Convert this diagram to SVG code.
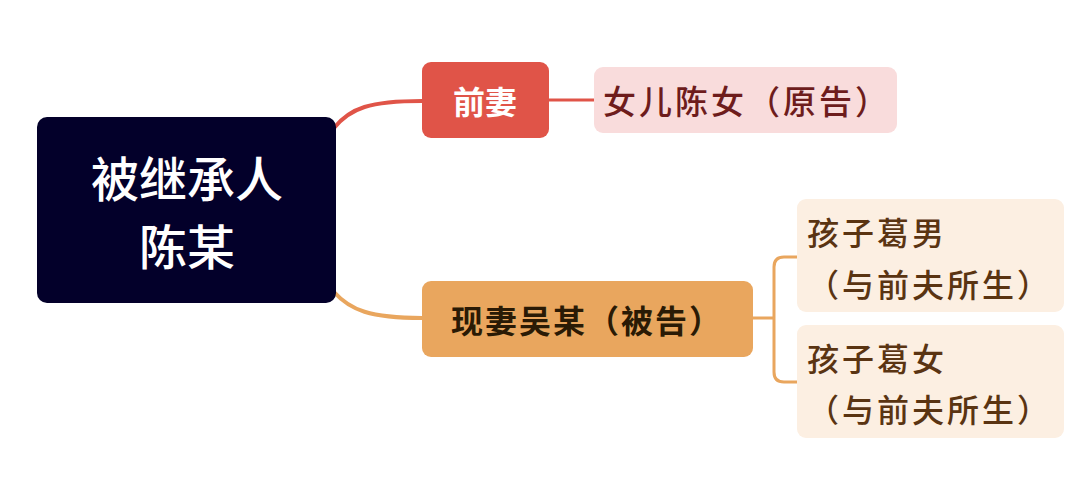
<svg xmlns="http://www.w3.org/2000/svg" width="1080" height="500" viewBox="0 0 1080 500">
<style>
.t{font-family:"Noto Sans CJK SC","Noto Sans",sans-serif;dominant-baseline:central}
.red{stroke:#e05448;fill:none}
.org{stroke:#e9a65e;fill:none}
</style>
<rect width="1080" height="500" fill="#ffffff"/>
<g id="connectors" stroke-linecap="round">
<path class="red" stroke-width="4" d="M334,128 C350,108 370,101 422,101"/>
<path class="red" stroke-width="3" d="M549,100 H594"/>
<path class="org" stroke-width="4" d="M334,292 C350,310 370,318 422,318"/>
<path class="org" stroke-width="3" d="M753,318 H774 M797,257 H784 Q774,257 774,267 V372 Q774,382 784,382 H797"/>
</g>
<g id="root">
<rect x="37" y="117" width="299" height="186" rx="10" fill="#03002a"/>
<text class="t" x="187" y="176" font-size="48" font-weight="500" fill="#ffffff" text-anchor="middle">被继承人</text>
<text class="t" x="187" y="244" font-size="48" font-weight="500" fill="#ffffff" text-anchor="middle">陈某</text>
</g>
<g id="qianqi">
<rect x="422" y="62" width="127" height="76" rx="9" fill="#e05448"/>
<text class="t" x="485" y="100" font-size="32" font-weight="bold" fill="#ffffff" text-anchor="middle">前妻</text>
</g>
<g id="daughter">
<rect x="594" y="67" width="303" height="66" rx="9" fill="#f9dcdc"/>
<text class="t" x="603" y="100" font-size="33" font-weight="500" fill="#6e1c1c" letter-spacing="3">女儿陈女（原告）</text>
</g>
<g id="wife">
<rect x="422" y="281" width="331" height="76" rx="9" fill="#e9a65e"/>
<text class="t" x="451" y="319" font-size="32" font-weight="bold" fill="#2a1a05" letter-spacing="2">现妻吴某（被告）</text>
</g>
<g id="son">
<rect x="797" y="199" width="267" height="113" rx="9" fill="#fcefe2"/>
<text class="t" x="807" y="231" font-size="32" font-weight="500" fill="#5a3412" letter-spacing="3">孩子葛男</text>
<text class="t" x="807" y="283" font-size="32" font-weight="500" fill="#5a3412" letter-spacing="3">（与前夫所生）</text>
</g>
<g id="girl">
<rect x="797" y="325" width="267" height="113" rx="9" fill="#fcefe2"/>
<text class="t" x="807" y="357" font-size="32" font-weight="500" fill="#5a3412" letter-spacing="3">孩子葛女</text>
<text class="t" x="807" y="408" font-size="32" font-weight="500" fill="#5a3412" letter-spacing="3">（与前夫所生）</text>
</g>
</svg>
